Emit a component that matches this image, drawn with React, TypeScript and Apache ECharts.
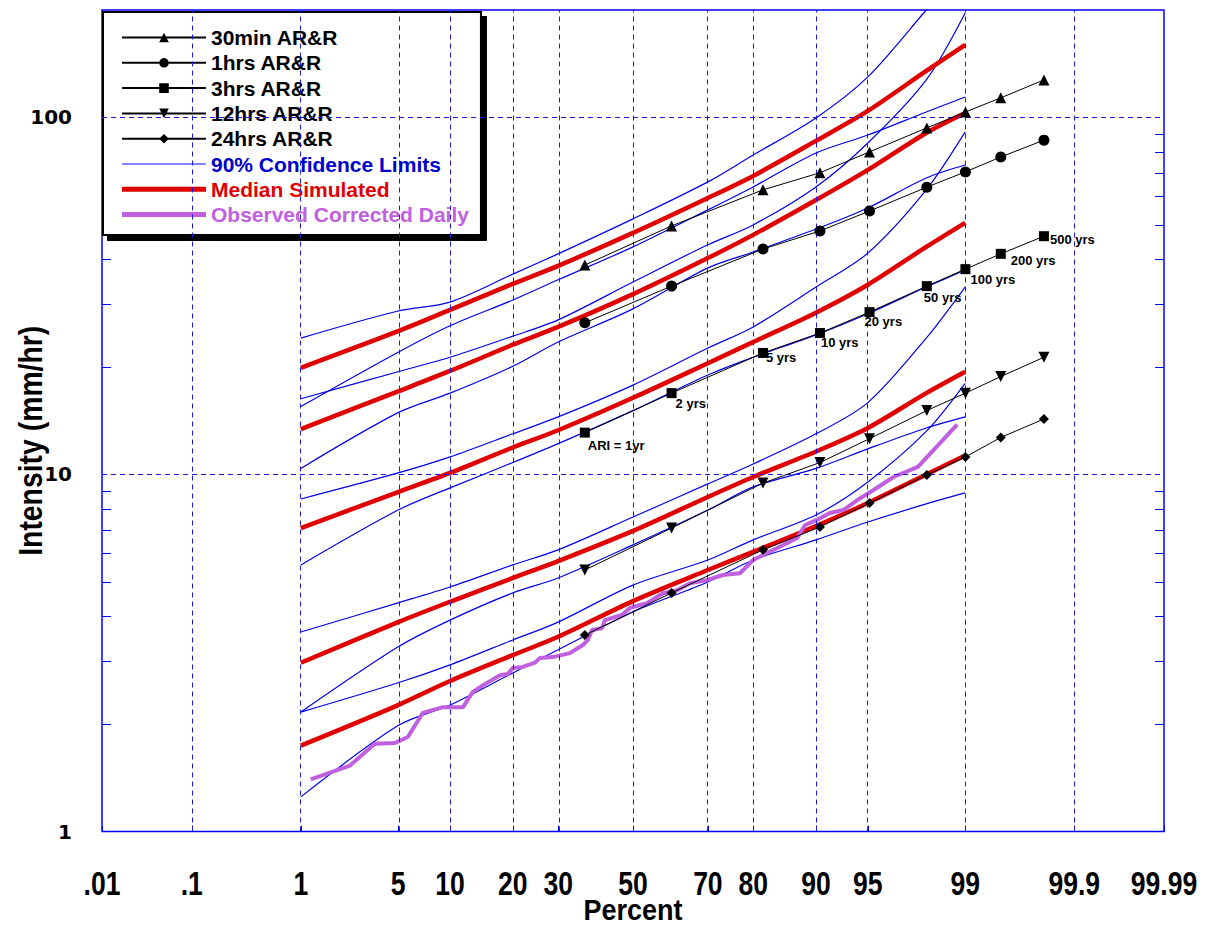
import React, { useEffect, useRef } from 'react';
import * as echarts from 'echarts';

// ---------- axis ticks ----------
const X_TICK_PCT = [0.01, 0.1, 1, 5, 10, 20, 30, 50, 70, 80, 90, 95, 99, 99.9, 99.99];
const X_TICK_LABELS = ['.01', '.1', '1', '5', '10', '20', '30', '50', '70', '80', '90', '95', '99', '99.9', '99.99'];
const X_GRID_PCT = [0.1, 1, 5, 10, 20, 30, 50, 70, 80, 90, 95, 99, 99.9];
const Y_LABELS = [1, 10, 100];
const Y_TICKS = [2, 3, 4, 5, 6, 7, 8, 9, 20, 30, 40, 50, 60, 70, 80, 90];
const Y_GRID = [10, 100];
const X_TITLE = 'Percent';
const Y_TITLE = 'Intensity (mm/hr)';

// ---------- simulated curves (percent non-exceedance) ----------
const SIM_PCT = [1, 5, 10, 20, 30, 50, 70, 80, 90, 95, 98, 99];

const MED_30MIN = [19.9, 25.2, 28.9, 34.2, 38.4, 47.5, 59.5, 68.6, 86.0, 104.3, 135, 159.7];
const UPP_30MIN = [24.1, 28.7, 30.4, 36.4, 41.5, 52.0, 66.0, 78.5, 99.7, 129.9, 200, 267];
const LOW_30MIN = [15.5, 22.0, 26.1, 30.8, 35.1, 43.4, 55.1, 63.9, 79.5, 89.3, 103.6, 114.1];

const MED_1HR = [13.4, 17.1, 19.5, 23.1, 25.9, 32.0, 40.4, 46.9, 58.7, 71.3, 90.5, 102.9];
const UPP_1HR = [16.3, 19.4, 21.3, 24.4, 27.1, 34.6, 44.0, 50.0, 63.9, 84.8, 127.4, 196.2];
const LOW_1HR = [10.4, 14.9, 16.9, 20.1, 23.5, 29.1, 37.9, 42.0, 48.7, 55.8, 67.7, 73.6];

const MED_3HR = [7.08, 8.93, 10.1, 11.9, 13.3, 16.4, 20.5, 23.5, 28.4, 34.0, 43.4, 50.7];
const UPP_3HR = [8.54, 10.1, 11.2, 13.0, 14.5, 17.8, 22.6, 25.9, 33.5, 41.7, 62.7, 91.1];
const LOW_3HR = [5.58, 7.95, 9.17, 10.8, 12.2, 15.1, 19.0, 21.3, 24.6, 28.2, 33.5, 37.4];

const MED_12HR = [2.97, 3.86, 4.40, 5.13, 5.72, 6.95, 8.65, 9.84, 11.6, 13.5, 16.9, 19.4];
const UPP_12HR = [3.62, 4.37, 4.84, 5.58, 6.15, 7.60, 9.41, 10.7, 13.0, 15.9, 24.1, 33.5];
const LOW_12HR = [2.16, 3.29, 3.91, 4.66, 5.13, 6.35, 7.95, 9.23, 10.4, 11.8, 13.5, 14.5];

const MED_24HR = [1.74, 2.26, 2.64, 3.12, 3.51, 4.42, 5.40, 6.07, 7.17, 8.32, 10.0, 11.3];
const UPP_24HR = [2.16, 2.61, 2.93, 3.44, 3.86, 4.90, 5.76, 6.56, 7.70, 9.53, 13.2, 18.0];
const LOW_24HR = [1.25, 1.98, 2.26, 2.78, 3.23, 4.12, 5.00, 5.76, 6.56, 7.36, 8.27, 8.88];

// ---------- AR&R design values ----------
const ARI_PCT = [36.79, 60.65, 81.87, 90.48, 95.12, 98.02, 99.005, 99.5, 99.8];
const ARI_LABELS = ['ARI = 1yr', '2 yrs', '5 yrs', '10 yrs', '20 yrs', '50 yrs', '100 yrs', '200 yrs', '500 yrs'];
const ARR_30MIN = [38.6, 49.7, 62.7, 70.0, 80.1, 93.5, 103.6, 113.5, 127.4];
const ARR_1HR = [26.6, 33.7, 42.8, 48.1, 54.7, 63.8, 70.4, 77.5, 86.4];
const ARR_3HR = [13.1, 16.9, 21.9, 24.9, 28.5, 33.7, 37.6, 41.5, 46.5];
const ARR_12HR = [5.40, 7.08, 9.46, 10.8, 12.6, 15.1, 16.9, 18.8, 21.3];
const ARR_24HR = [3.55, 4.66, 6.15, 7.13, 8.32, 9.97, 11.2, 12.7, 14.3];

// ---------- observed corrected daily ----------
const OBS_PCT = [1.2, 2.37, 3.53, 4.77, 5.74, 7.05, 9.16, 11.7, 13.1, 14.7, 17.6, 19.0, 20.0, 22.0, 24.6, 25.7, 28.7, 32.9, 36.3, 37.6, 38.7, 41.4, 42.2, 46.9, 49.2, 52.0, 53.9, 58.3, 62.1, 65.5, 69.8, 73.6, 77.3, 80.0, 81.9, 87.5, 88.6, 90.1, 91.6, 92.95, 94.2, 95.4, 96.6, 97.7, 98.84];
const OBS_VAL = [1.40, 1.53, 1.76, 1.77, 1.84, 2.15, 2.23, 2.23, 2.46, 2.57, 2.74, 2.76, 2.87, 2.89, 2.97, 3.06, 3.08, 3.16, 3.33, 3.44, 3.67, 3.71, 3.91, 4.04, 4.23, 4.31, 4.36, 4.65, 4.74, 4.96, 5.06, 5.23, 5.29, 5.76, 5.95, 6.64, 7.22, 7.46, 7.80, 7.95, 8.48, 9.05, 9.84, 10.5, 13.8];

// label offsets (relative to symbol box) for the 3hr ARI labels
const ARI_LABEL_POS = [[8, 11], [9, 9], [8, 3], [6, 8], [0, 8], [2, 10], [10, 9], [15, 5], [11, 2]];

// inverse standard normal CDF (probability-paper x scale)
function probit(p: number): number {
  const a = [-3.969683028665376e1, 2.209460984245205e2, -2.759285104469687e2, 1.38357751867269e2, -3.066479806614716e1, 2.506628277459239];
  const b = [-5.447609879822406e1, 1.615858368580409e2, -1.556989798598866e2, 6.680131188771972e1, -1.328068155288572e1];
  const c = [-7.784894002430293e-3, -3.223964580411365e-1, -2.400758277161838, -2.549671010177018, 4.374664141464968, 2.938163982698783];
  const d = [7.784695709041462e-3, 3.224671290700398e-1, 2.445134137142996, 3.754408661907416];
  const plow = 0.02425;
  const phigh = 1 - plow;
  let q: number, r: number;
  if (p < plow) {
    q = Math.sqrt(-2 * Math.log(p));
    return (((((c[0] * q + c[1]) * q + c[2]) * q + c[3]) * q + c[4]) * q + c[5]) / ((((d[0] * q + d[1]) * q + d[2]) * q + d[3]) * q + 1);
  }
  if (p <= phigh) {
    q = p - 0.5;
    r = q * q;
    return ((((((a[0] * r + a[1]) * r + a[2]) * r + a[3]) * r + a[4]) * r + a[5]) * q) / (((((b[0] * r + b[1]) * r + b[2]) * r + b[3]) * r + b[4]) * r + 1);
  }
  q = Math.sqrt(-2 * Math.log(1 - p));
  return -(((((c[0] * q + c[1]) * q + c[2]) * q + c[3]) * q + c[4]) * q + c[5]) / ((((d[0] * q + d[1]) * q + d[2]) * q + d[3]) * q + 1);
}

const z = (pct: number) => probit(pct / 100);
const pairs = (pcts: number[], vals: number[]) => pcts.map((p, i) => [z(p), vals[i]]);

const BLUE = '#0000ee';
const GRIDBLUE = '#1a1aee';
const RED = '#e00000';
const PURPLE = '#c060e0';
const ARIAL = "'Liberation Sans', Arial, Helvetica, sans-serif";
const NARROW_FONT = `bold 34px ${ARIAL}`;

export default function App() {
  const ref = useRef<HTMLDivElement>(null);

  useEffect(() => {
    if (!ref.current) return;
    const chart = echarts.init(ref.current, undefined, { renderer: 'svg' });

    const xTickZ = X_TICK_PCT.map(z);
    const gridLineStyle = { color: GRIDBLUE, type: [5, 4], width: 1 };

    const confSeries = (data: number[], first = false) => ({
      name: '90% Confidence Limits',
      type: 'line',
      data: pairs(SIM_PCT, data),
      symbol: 'none',
      smooth: 0.3,
      color: BLUE,
      lineStyle: { color: BLUE, width: 1.2 },
      z: 2,
      silent: true,
      ...(first
        ? {
            markLine: {
              silent: true,
              symbol: ['none', 'none'],
              label: { show: false },
              lineStyle: gridLineStyle,
              emphasis: { disabled: true },
              data: [
                ...X_GRID_PCT.map((p) => ({ xAxis: z(p), lineStyle: gridLineStyle })),
                ...Y_GRID.map((v) => ({ yAxis: v, lineStyle: gridLineStyle })),
              ],
            },
          }
        : {}),
    });
    const medSeries = (data: number[]) => ({
      name: 'Median Simulated',
      type: 'line',
      data: pairs(SIM_PCT, data),
      symbol: 'none',
      smooth: 0.3,
      color: RED,
      lineStyle: { color: RED, width: 4.5 },
      z: 3,
      silent: true,
    });
    const arrSeries = (name: string, data: number[], symbol: string, size: number, withLabels = false) => ({
      name,
      type: 'line',
      data: pairs(ARI_PCT, data).map((v, i) =>
        withLabels
          ? {
              value: v,
              label: {
                show: true,
                formatter: ARI_LABELS[i],
                position: ARI_LABEL_POS[i],
                fontFamily: ARIAL,
                fontWeight: 'bold',
                fontSize: 13,
                color: '#000',
              },
            }
          : { value: v }
      ),
      symbol,
      symbolSize: size,
      showAllSymbol: true,
      color: '#000',
      itemStyle: { color: '#000' },
      lineStyle: { color: '#000', width: 1 },
      z: 5,
      silent: true,
    });

    const tickCfg = (len: number, values: number[]) => ({
      show: true,
      inside: true,
      length: len,
      customValues: values,
      lineStyle: { color: '#0000ff', width: 1 },
    });

    chart.setOption({
      animation: false,
      backgroundColor: '#fff',
      grid: {
        left: 102,
        top: 10,
        right: 46,
        bottom: 97.5,
        containLabel: false,
        outerBoundsMode: 'none',
        show: true,
        borderColor: '#0000ff',
        borderWidth: 1.5,
        backgroundColor: 'transparent',
      },
      legend: {
        left: 103,
        top: 12,
        orient: 'vertical',
        backgroundColor: '#fff',
        borderColor: '#000',
        borderWidth: 2,
        borderRadius: 0,
        shadowColor: '#000',
        shadowBlur: 0,
        shadowOffsetX: 5,
        shadowOffsetY: 5,
        padding: [15, 12, 10, 18],
        itemWidth: 84,
        itemHeight: 12,
        itemGap: 4.3,
        selectedMode: false,
        textStyle: { fontFamily: ARIAL, fontWeight: 'bold', fontSize: 21, color: '#000' },
        data: [
          { name: '30min AR&R' },
          { name: '1hrs AR&R' },
          { name: '3hrs AR&R' },
          { name: '12hrs AR&R' },
          { name: '24hrs AR&R' },
          { name: '90% Confidence Limits', icon: 'path://M0 0H84V1.6H0Z', itemStyle: { color: '#5a5aff' }, textStyle: { color: '#0000cc' } },
          { name: 'Median Simulated', icon: 'path://M0 0H84V5H0Z', textStyle: { color: RED } },
          { name: 'Observed Corrected Daily', icon: 'path://M0 0H84V5H0Z', textStyle: { color: PURPLE } },
        ],
      },
      xAxis: {
        type: 'value',
        min: z(0.01),
        max: z(99.99),
        axisLine: { show: false, onZero: false },
        splitLine: { show: false },
        axisTick: tickCfg(6, xTickZ),
        axisLabel: { show: false },
      },
      yAxis: [
        {
          type: 'log',
          logBase: 10,
          min: 1,
          max: 200,
          axisLine: { show: false, onZero: false },
          splitLine: { show: false },
          axisTick: tickCfg(9, Y_TICKS),
          axisLabel: {
            show: true,
            customValues: Y_LABELS,
            formatter: (v: number) => String(Math.round(v)),
            margin: 30,
            fontFamily: "'DejaVu Sans', sans-serif",
            fontWeight: 'bold',
            fontSize: 20,
            color: '#000',
          },
        },
        {
          type: 'log',
          logBase: 10,
          min: 1,
          max: 200,
          position: 'right',
          axisLine: { show: false, onZero: false },
          splitLine: { show: false },
          axisTick: tickCfg(9, Y_TICKS),
          axisLabel: { show: false },
        },
      ],
      series: [
        confSeries(UPP_30MIN, true),
        confSeries(LOW_30MIN),
        confSeries(UPP_1HR),
        confSeries(LOW_1HR),
        confSeries(UPP_3HR),
        confSeries(LOW_3HR),
        confSeries(UPP_12HR),
        confSeries(LOW_12HR),
        confSeries(UPP_24HR),
        confSeries(LOW_24HR),
        medSeries(MED_30MIN),
        medSeries(MED_1HR),
        medSeries(MED_3HR),
        medSeries(MED_12HR),
        medSeries(MED_24HR),
        {
          name: 'Observed Corrected Daily',
          type: 'line',
          data: pairs(OBS_PCT, OBS_VAL),
          symbol: 'none',
          color: PURPLE,
          lineStyle: { color: PURPLE, width: 4 },
          z: 4,
          silent: true,
        },
        arrSeries('30min AR&R', ARR_30MIN, 'triangle', 11),
        arrSeries('1hrs AR&R', ARR_1HR, 'circle', 11),
        arrSeries('3hrs AR&R', ARR_3HR, 'rect', 10, true),
        arrSeries('12hrs AR&R', ARR_12HR, 'path://M0,0 L10,0 L5,9 Z', 11),
        arrSeries('24hrs AR&R', ARR_24HR, 'diamond', 10),
      ],
    });

    // Condensed (horizontally squeezed) axis texts placed through the axis scales.
    const bottomY = chart.convertToPixel({ yAxisIndex: 0 }, 1) as number;
    const topY = chart.convertToPixel({ yAxisIndex: 0 }, 200) as number;
    const leftX = chart.convertToPixel({ xAxisIndex: 0 }, z(0.01)) as number;
    const rightX = chart.convertToPixel({ xAxisIndex: 0 }, z(99.99)) as number;
    const texts: any[] = xTickZ.map((t, i) => ({
      type: 'text',
      x: chart.convertToPixel({ xAxisIndex: 0 }, t) as number,
      y: bottomY + 51,
      scaleX: 0.78,
      silent: true,
      style: {
        text: X_TICK_LABELS[i],
        font: NARROW_FONT,
        fill: '#000',
        textAlign: 'center',
        textVerticalAlign: 'middle',
      },
    }));
    texts.push({
      type: 'text',
      x: (leftX + rightX) / 2,
      y: bottomY + 78,
      scaleX: 0.9,
      silent: true,
      style: { text: X_TITLE, font: `bold 30px ${ARIAL}`, fill: '#000', textAlign: 'center', textVerticalAlign: 'middle' },
    });
    texts.push({
      type: 'text',
      x: leftX - 71,
      y: (topY + bottomY) / 2 + 20,
      rotation: Math.PI / 2,
      scaleX: 0.86,
      silent: true,
      style: { text: Y_TITLE, font: `bold 33px ${ARIAL}`, fill: '#000', textAlign: 'center', textVerticalAlign: 'middle' },
    });
    chart.setOption({ graphic: texts });

    return () => chart.dispose();
  }, []);

  return (
    <div
      ref={ref}
      style={{ position: 'fixed', left: 0, top: 0, width: 1210, height: 929, background: '#fff' }}
    />
  );
}
